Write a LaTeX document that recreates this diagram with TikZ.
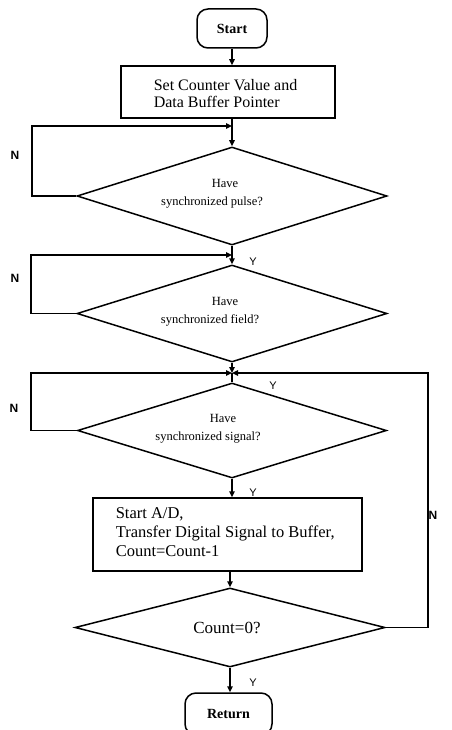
\documentclass[tikz,border=0pt]{standalone}
\usepackage{fontspec}
\setmainfont{Liberation Serif}
\newfontfamily\labfont{Liberation Sans}
\usetikzlibrary{shapes.geometric,arrows.meta}
\begin{document}
\begin{tikzpicture}[x=1pt,y=-1pt,
  line width=1.5pt,
  arr/.style={-{Triangle[length=6pt,width=5.5pt]}},
  term/.style={draw,rounded corners=11pt,inner sep=0pt},
  proc/.style={draw,inner sep=0pt},
  dec/.style={draw,diamond,inner sep=0pt},
  bigtxt/.style={font=\fontsize{16}{17}\selectfont,align=left,inner sep=0pt},
  midtxt/.style={font=\fontsize{17}{17}\selectfont,align=center,inner sep=0pt},
  smalltxt/.style={font=\fontsize{12.5}{18}\selectfont,align=center,inner sep=0pt},
  termtxt/.style={font=\bfseries\fontsize{14}{17}\selectfont},
  nlab/.style={font=\labfont\bfseries\fontsize{12}{12}\selectfont,inner sep=0pt},
  ylab/.style={font=\labfont\fontsize{11}{11}\selectfont,inner sep=0pt},
]
\useasboundingbox (0,0) rectangle (451,730);
\clip (0,0) rectangle (451,730);

% shapes
\node[term,minimum width=70pt,minimum height=39pt,termtxt] (start) at (232,28.5) {Start};
\node[proc,minimum width=214pt,minimum height=52pt] (r1) at (228,92) {};
\node[bigtxt,anchor=west] (r1t) at (153,94) {Set Counter Value and\\Data Buffer Pointer};
\node[dec,minimum width=310pt,minimum height=98pt] (d1) at (232,196) {};
\node[smalltxt] (d1t) at (212,194) {\hspace*{26pt}Have\\synchronized pulse?};
\node[dec,minimum width=310pt,minimum height=97pt] (d2) at (232,313.5) {};
\node[smalltxt] (d2t) at (210,312) {\hspace*{30pt}Have\\synchronized field?};
\node[dec,minimum width=309pt,minimum height=95pt] (d3) at (232,430.5) {};
\node[smalltxt] (d3t) at (208,429) {\hspace*{30pt}Have\\synchronized signal?};
\node[proc,minimum width=269pt,minimum height=73pt] (r2) at (227.5,534.5) {};
\node[bigtxt,anchor=west,font=\fontsize{16.5}{19}\selectfont] (r2t) at (115,532) {Start A/D,\\Transfer Digital Signal to Buffer,\\Count=Count-1};
\node[dec,minimum width=310pt,minimum height=79pt] (d4) at (230,627.5) {};
\node[midtxt] (d4t) at (227,628) {Count=0?};
\node[term,minimum width=87pt,minimum height=42pt,termtxt] (ret) at (228.5,714) {Return};

% junctions
\coordinate (j1) at (232,126);
\coordinate (l1) at (32,126);
\coordinate (j2) at (232,255);
\coordinate (l2) at (31,255);
\coordinate (j3) at (232,373);
\coordinate (l3) at (31,373);
\coordinate (r3) at (428,373);

% connectors
\draw[arr] (start) -- (start |- r1.north);
\draw[arr] (d1.north |- r1.south) -- (d1.north);
\draw[arr] (d1.west) -| (l1) -- (j1);
\draw[arr] (d1.south) -- (d2.north);
\draw[arr] (d2.west) -| (l2) -- (j2);
\draw[arr] (d2.south) -- (j3);
\draw (j3) -- (d3.north);
\draw[arr] (d3.west) -| (l3) -- (j3);
\draw[arr] (d4.east) -| (r3) -- (j3);
\draw[arr] (d3.south) -- (d3.south |- r2.north);
\draw[arr] (d4.north |- r2.south) -- (d4.north);
\draw[arr] (d4.south) -- (d4.south |- ret.north);

% labels
\node[nlab] (n1) at (15,155) {N};
\node[nlab] (n2) at (15,278) {N};
\node[nlab] (n3) at (14,408) {N};
\node[nlab] (n4) at (433,515) {N};
\node[ylab] (y1) at (253,262) {Y};
\node[ylab] (y2) at (273,386) {Y};
\node[ylab] (y3) at (253,493) {Y};
\node[ylab] (y4) at (253,683) {Y};
\end{tikzpicture}
\end{document}
